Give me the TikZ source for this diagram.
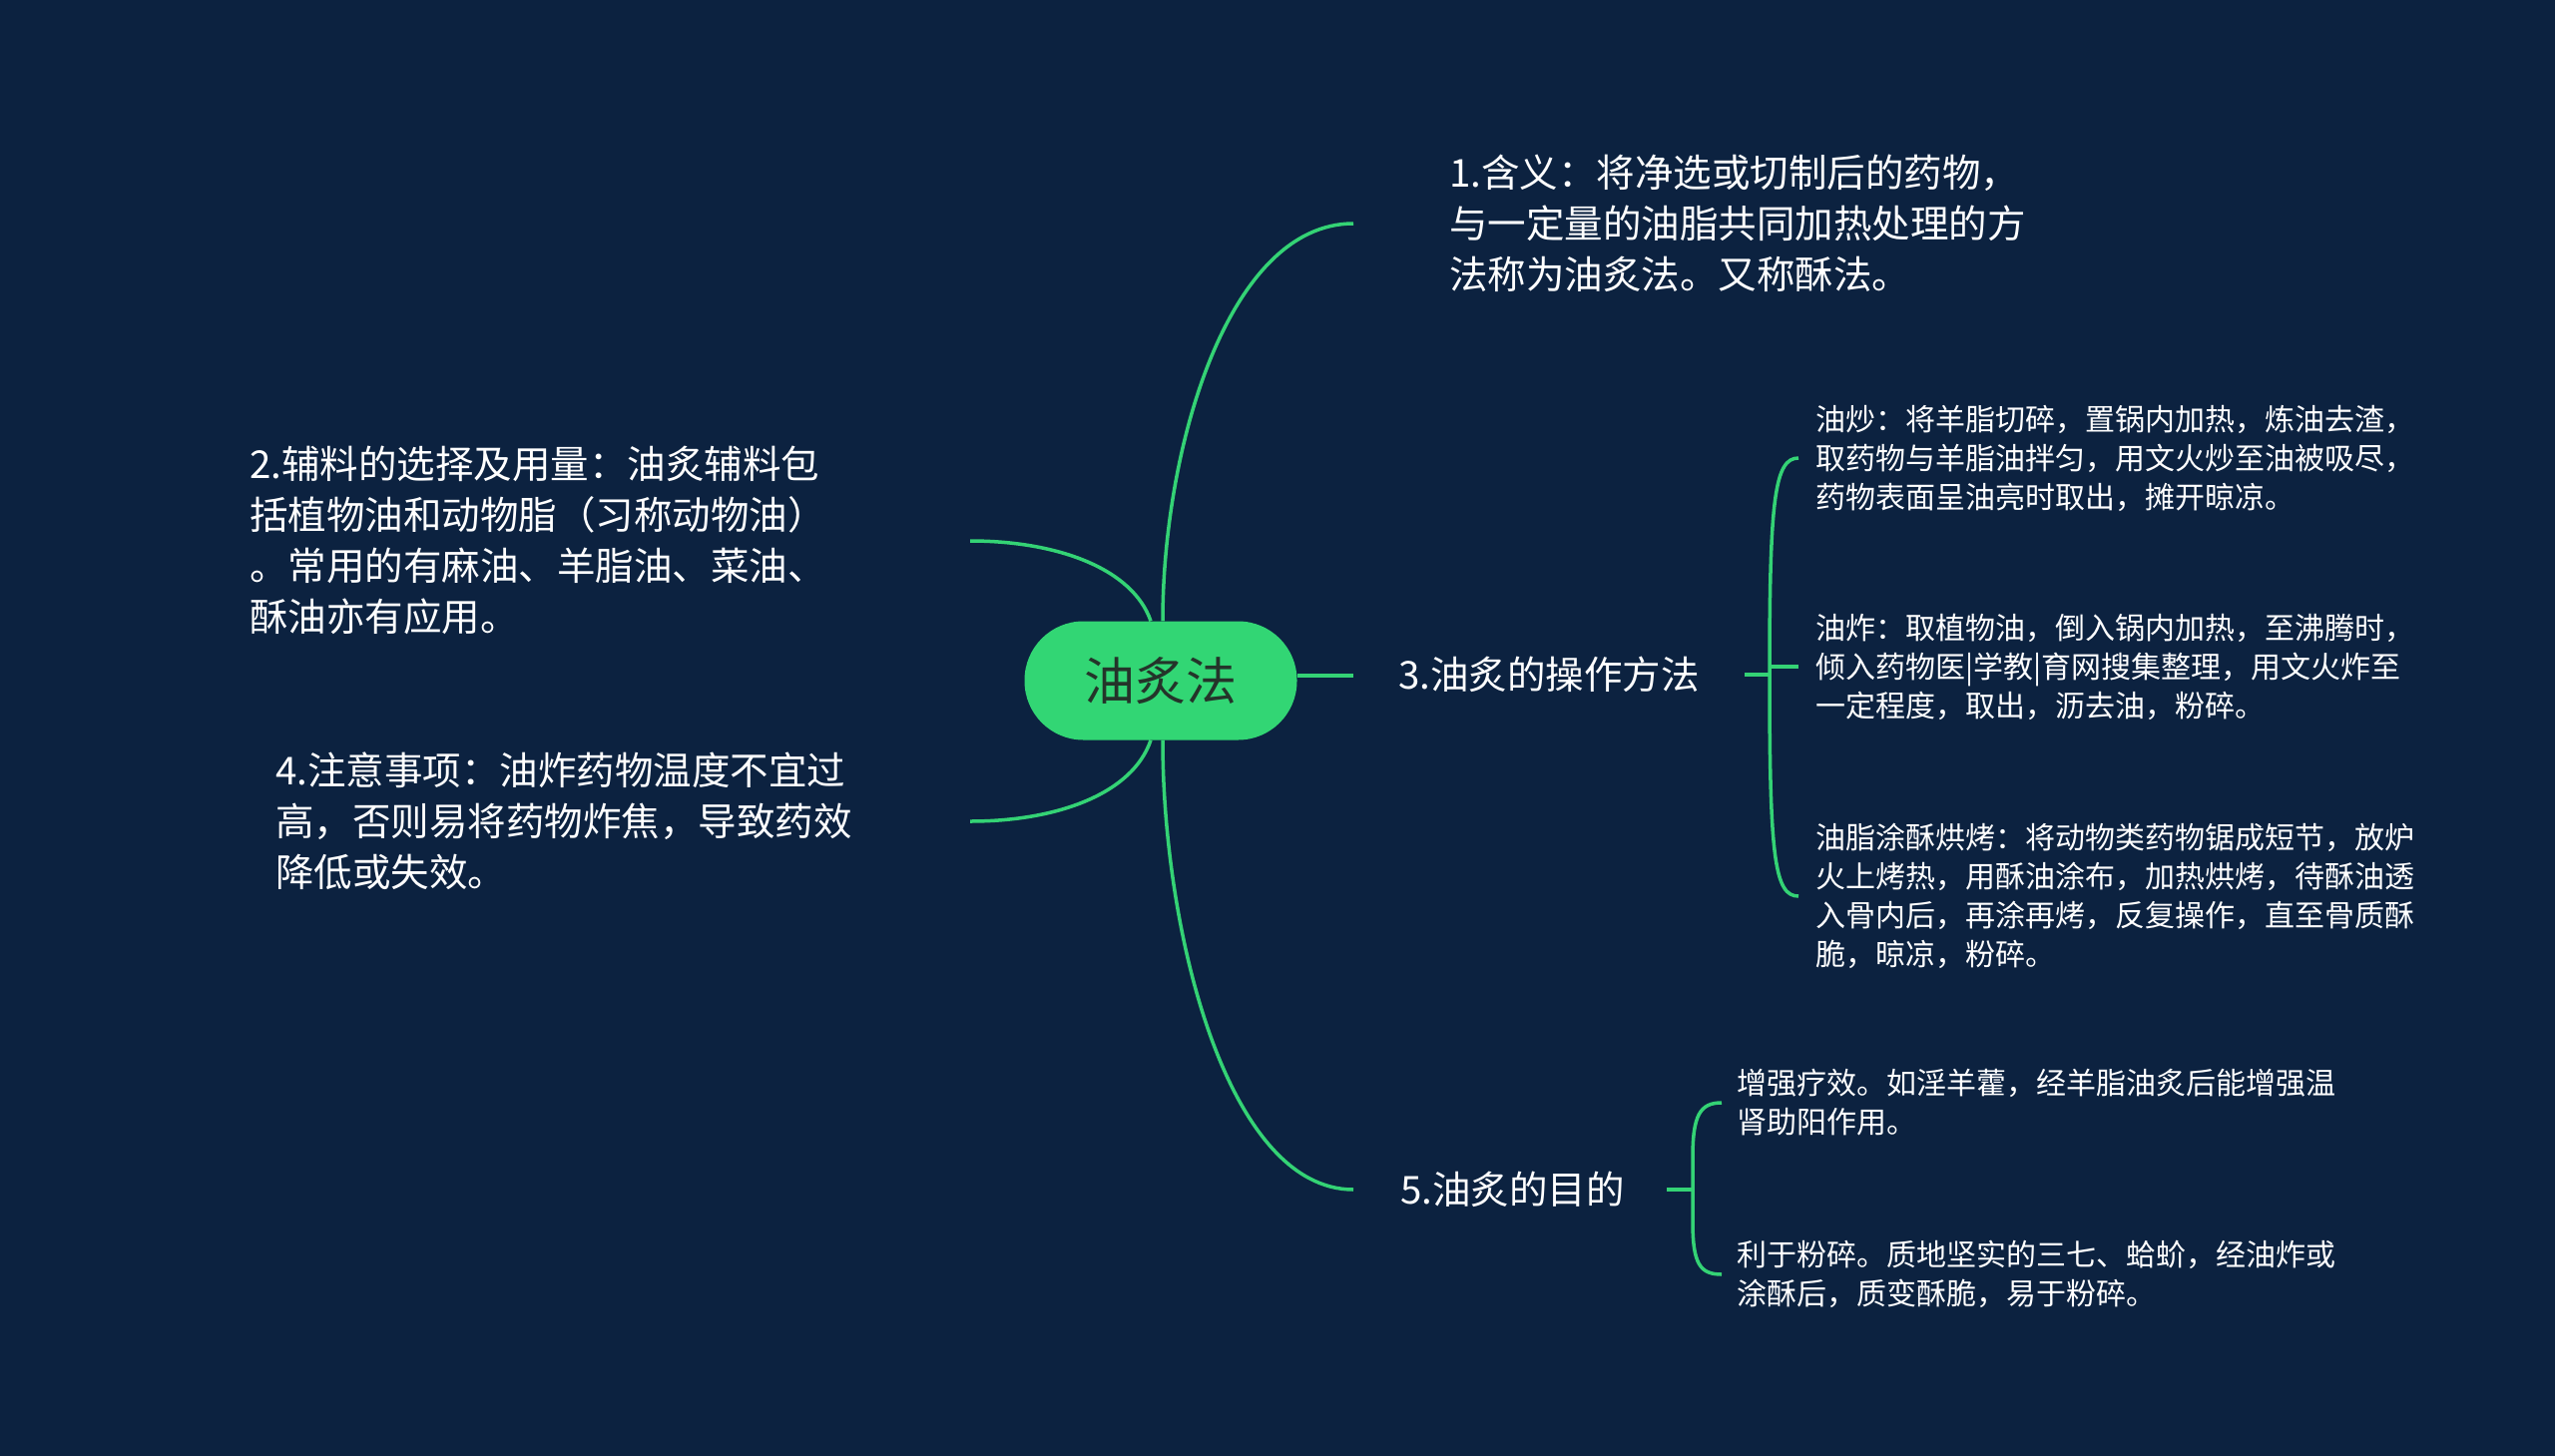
\documentclass[tikz,border=0pt]{standalone}
\usepackage{fontspec}
\setmainfont{Noto Sans CJK SC}
\definecolor{bg}{RGB}{12,34,64}
\definecolor{lg}{RGB}{52,211,117}
\definecolor{rootfill}{RGB}{50,214,116}
\definecolor{roottext}{RGB}{36,52,42}
\tikzset{
  conn/.style={draw=lg, line width=3.5pt},
  lvlone/.style={text=white, anchor=west, inner sep=0pt, align=left, font=\fontsize{38.5pt}{51pt}\selectfont},
  subtxt/.style={text=white, anchor=west, inner sep=0pt, align=left, font=\fontsize{30pt}{39pt}\selectfont},
  rootnode/.style={fill=rootfill, rounded corners=59pt, minimum width=273pt, minimum height=119pt, text=roottext, inner sep=0pt, font=\fontsize{51pt}{60pt}\selectfont}
}
\begin{document}
\begin{tikzpicture}[x=1pt,y=-1pt]
\fill[bg] (0,0) rectangle (2560,1459);
\useasboundingbox (0,0) rectangle (2560,1459);

% nodes
\node[rootnode] (c) at (1163,682) {油炙法};
\node[lvlone] (t1) at (1452,224) {1.含义：将净选或切制后的药物，\\与一定量的油脂共同加热处理的方\\法称为油炙法。又称酥法。};
\node[lvlone] (t2) at (250,541) {2.辅料的选择及用量：油炙辅料包\\括植物油和动物脂（习称动物油）\\。常用的有麻油、羊脂油、菜油、\\酥油亦有应用。};
\node[lvlone] (t3) at (1401,676) {3.油炙的操作方法};
\node[lvlone] (t4) at (276,823) {4.注意事项：油炸药物温度不宜过\\高，否则易将药物炸焦，导致药效\\降低或失效。};
\node[lvlone] (t5) at (1403,1192) {5.油炙的目的};

\node[subtxt] (s31) at (1819,459) {油炒：将羊脂切碎，置锅内加热，炼油去渣，\\取药物与羊脂油拌匀，用文火炒至油被吸尽，\\药物表面呈油亮时取出，摊开晾凉。};
\node[subtxt] (s32) at (1819,668) {油炸：取植物油，倒入锅内加热，至沸腾时，\\倾入药物医|学教|育网搜集整理，用文火炸至\\一定程度，取出，沥去油，粉碎。};
\node[subtxt] (s33) at (1819,898) {油脂涂酥烘烤：将动物类药物锯成短节，放炉\\火上烤热，用酥油涂布，加热烘烤，待酥油透\\入骨内后，再涂再烤，反复操作，直至骨质酥\\脆，晾凉，粉碎。};
\node[subtxt] (s51) at (1740,1105) {增强疗效。如淫羊藿，经羊脂油炙后能增强温\\肾助阳作用。};
\node[subtxt] (s52) at (1740,1277) {利于粉碎。质地坚实的三七、蛤蚧，经油炸或\\涂酥后，质变酥脆，易于粉碎。};

% free ends
\coordinate (e1) at (1356,224);
\coordinate (e2) at (972,542);
\coordinate (e3) at (1356,677);
\coordinate (e4) at (972,823);
\coordinate (e5) at (1356,1192);
\coordinate (b3a) at (1748,676);
\coordinate (b3v) at (1773,676);
\coordinate (b5a) at (1670,1192);
\coordinate (b5v) at (1696,1192);

% main connectors
\draw[conn] ([xshift=2pt]c.north) .. controls (1165,450) and (1230,224) .. (e1);
\draw[conn] ([xshift=2pt]c.south) .. controls (1165,935) and (1230,1192) .. (e5);
\draw[conn] (c.east |- e3) -- (e3);
\draw[conn] ([xshift=-10pt]c.north) .. controls (1135,570) and (1060,542) .. (e2);
\draw[conn] ([xshift=-10pt]c.south) .. controls (1135,795) and (1060,823) .. (e4);

% bracket for 3
\draw[conn] (b3a) -- (b3v);
\draw[conn] (b3v) .. controls (1773,500) and (1778,459) .. ([xshift=-17pt]s31.west);
\draw[conn] (b3v) .. controls (1773,860) and (1778,898) .. ([xshift=-17pt]s33.west);
\draw[conn] (b3v |- s32.west) -- ([xshift=-17pt]s32.west);

% bracket for 5
\draw[conn] (b5a) -- (b5v);
\draw[conn] (b5v) -- (1696,1160) .. controls (1696,1118) and (1703,1105) .. ([xshift=-15pt]s51.west);
\draw[conn] (b5v) -- (1696,1224) .. controls (1696,1266) and (1703,1277) .. ([xshift=-15pt]s52.west);
\end{tikzpicture}
\end{document}
